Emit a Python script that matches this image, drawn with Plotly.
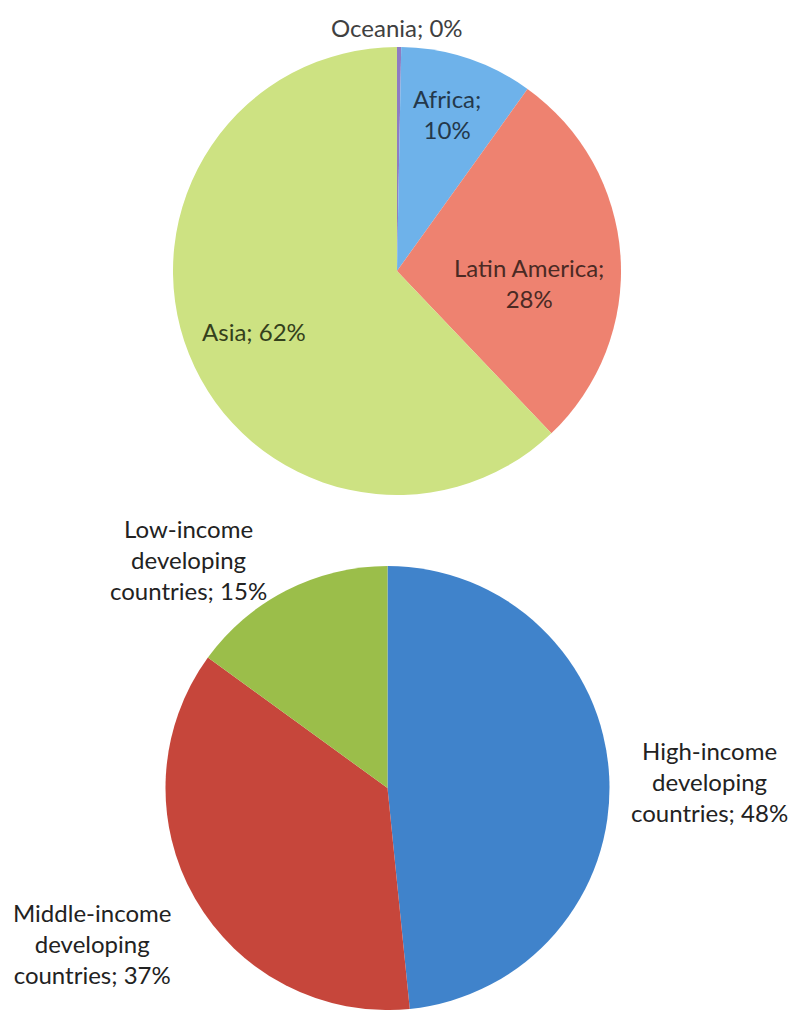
import plotly.graph_objects as go

# ---- data ----
region_labels = ["Oceania", "Africa", "Latin America", "Asia"]
region_values = [0.3, 9.6, 28.0, 62.1]
region_colors = ["#8e7cc3", "#6eb2ea", "#ee8270", "#cde282"]

income_labels = ["High-income developing countries",
                 "Middle-income developing countries",
                 "Low-income developing countries"]
income_values = [48.4, 36.6, 15.0]
income_colors = ["#4083cb", "#c6463b", "#9bbe4a"]

FONT = "Lato, Calibri, 'Open Sans', sans-serif"
FS = 24

W, H = 793, 1010


def px_dom(a, b, total):
    return [a / total, b / total]


fig = go.Figure()
fig.add_trace(go.Pie(
    labels=region_labels, values=region_values, sort=False,
    direction="clockwise", rotation=0,
    marker=dict(colors=region_colors, line=dict(width=0)),
    textinfo="none", hoverinfo="label+percent", showlegend=False,
    domain=dict(x=px_dom(397 - 224, 397 + 224, W),
                y=[1 - (271 + 224) / H, 1 - (271 - 224) / H]),
))
fig.add_trace(go.Pie(
    labels=income_labels, values=income_values, sort=False,
    direction="clockwise", rotation=0,
    marker=dict(colors=income_colors, line=dict(width=0)),
    textinfo="none", hoverinfo="label+percent", showlegend=False,
    domain=dict(x=px_dom(387.5 - 222, 387.5 + 222, W),
                y=[0.0, 444 / H]),
))


def pct(values, i):
    return "%d%%" % int(values[i] / sum(values) * 100 + 0.5)


def wrap_income(label):
    a, b, c = label.split(" ")
    return a + "<br>" + b + "<br>" + c


ann = [
    # (text, x px, y px, color)
    (region_labels[0] + "; " + pct(region_values, 0), 397, 27, "#404040"),
    (region_labels[1] + ";<br>" + pct(region_values, 1), 447, 114, "#24384a"),
    (region_labels[2] + ";<br>" + pct(region_values, 2), 529, 283, "#4a2a24"),
    (region_labels[3] + "; " + pct(region_values, 3), 254, 331, "#34401c"),
    (wrap_income(income_labels[2]) + "; " + pct(income_values, 2), 188, 559, "#222222"),
    (wrap_income(income_labels[0]) + "; " + pct(income_values, 0), 709, 781, "#222222"),
    (wrap_income(income_labels[1]) + "; " + pct(income_values, 1), 92, 943, "#222222"),
]
for text, x, y, col in ann:
    fig.add_annotation(
        text=text, x=x / W, y=1 - y / H, xref="paper", yref="paper",
        xanchor="center", yanchor="middle", showarrow=False, align="center",
        font=dict(family=FONT, size=FS, color=col),
    )

fig.update_layout(
    width=W, height=H, margin=dict(l=0, r=0, t=0, b=0),
    paper_bgcolor="white", plot_bgcolor="white",
)
fig.write_html(
    "out.html",
    config={"displayModeBar": False},
    post_script="document.body.style.margin='0';document.body.style.overflow='hidden';",
)
